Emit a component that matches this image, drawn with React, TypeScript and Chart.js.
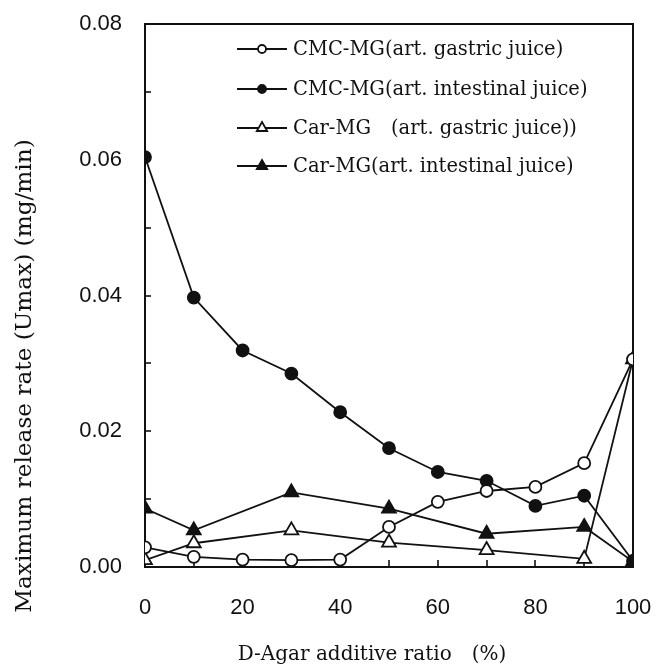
import React, { useEffect, useRef } from "react";
import { Chart, registerables } from "chart.js";

Chart.register(...registerables);

// ---- data ----
const ratio = [0, 10, 20, 30, 40, 50, 60, 70, 80, 90, 100];
const cmcGastric = [0.0029, 0.0015, 0.0011, 0.001, 0.0011, 0.0059, 0.0096, 0.0112, 0.0118, 0.0153, 0.0306];
const cmcIntestinal = [0.0604, 0.0397, 0.0319, 0.0285, 0.0228, 0.0175, 0.014, 0.0127, 0.009, 0.0105, 0.0009];
const carRatio = [0, 10, 30, 50, 70, 90, 100];
const carGastric = [0.001, 0.0035, 0.0054, 0.0036, 0.0025, 0.0012, 0.0306];
const carIntestinal = [0.0086, 0.0054, 0.011, 0.0086, 0.0049, 0.0059, 0.0008];

const seriesNames = [
  "CMC-MG(art. gastric juice)",
  "CMC-MG(art. intestinal juice)",
  "Car-MG\u3000(art. gastric juice))",
  "Car-MG(art. intestinal juice)",
];
const xTitle = "D-Agar additive ratio\u3000(%)";
const yTitle = "Maximum release rate (Umax) (mg/min)";
const yMinorStep = 0.01;
const xMinorStep = 10;

const SERIF = "'DejaVu Serif', 'Liberation Serif', serif";
const SANS = "'Liberation Sans', Arial, sans-serif";

function drawMarker(ctx: CanvasRenderingContext2D, style: string, filled: boolean, x: number, y: number, r: number) {
  ctx.beginPath();
  if (style === "circle") {
    ctx.arc(x, y, r, 0, Math.PI * 2);
  } else {
    const a = Math.PI * 2 / 3;
    ctx.moveTo(x, y - r);
    ctx.lineTo(x + Math.sin(a) * r, y - Math.cos(a) * r);
    ctx.lineTo(x + Math.sin(2 * a) * r, y - Math.cos(2 * a) * r);
    ctx.closePath();
  }
  ctx.fillStyle = filled ? "#111" : "#fff";
  ctx.fill();
  ctx.lineWidth = 1.8;
  ctx.strokeStyle = "#111";
  ctx.stroke();
}

const framePlugin = {
  id: "frameTicks",
  beforeDatasetsDraw(chart: any) {
    const { ctx, chartArea: a, scales } = chart;
    ctx.save();
    ctx.strokeStyle = "#111";
    ctx.lineWidth = 2;
    ctx.strokeRect(a.left, a.top, a.right - a.left, a.bottom - a.top);
    ctx.lineWidth = 1.6;
    const ys = scales.y;
    for (let v = ys.min; v <= ys.max + 1e-9; v += yMinorStep) {
      const py = Math.round(ys.getPixelForValue(v));
      ctx.beginPath();
      ctx.moveTo(a.left, py);
      ctx.lineTo(a.left + 6, py);
      ctx.stroke();
    }
    const xs = scales.x;
    for (let v = xs.min; v <= xs.max + 1e-9; v += xMinorStep) {
      const px = Math.round(xs.getPixelForValue(v));
      ctx.beginPath();
      ctx.moveTo(px, a.bottom);
      ctx.lineTo(px, a.bottom - 7);
      ctx.stroke();
    }
    ctx.restore();
  },
  afterDraw(chart: any) {
    const { ctx } = chart;
    ctx.save();
    ctx.fillStyle = "#111";
    ctx.textAlign = "center";
    ctx.textBaseline = "middle";
    ctx.font = `20px ${SERIF}`;
    ctx.fillText(xTitle, 372, 655);
    ctx.save();
    ctx.translate(25, 376);
    ctx.rotate(-Math.PI / 2);
    ctx.font = `23.2px ${SERIF}`;
    ctx.fillText(yTitle, 0, 0);
    ctx.restore();
    // legend
    const rows = [49, 89, 128, 166];
    chart.data.datasets.forEach((ds: any, i: number) => {
      const y = rows[i];
      ctx.strokeStyle = "#111";
      ctx.lineWidth = 2;
      ctx.beginPath();
      ctx.moveTo(237, y);
      ctx.lineTo(287, y);
      ctx.stroke();
      const isTri = ds.pointStyle === "triangle";
      drawMarker(ctx, ds.pointStyle, ds.pointBackgroundColor !== "#ffffff", 262, y, isTri ? 6 : 4);
      ctx.fillStyle = "#111";
      ctx.font = `19.5px ${SERIF}`;
      ctx.textAlign = "left";
      ctx.textBaseline = "middle";
      ctx.fillText(seriesNames[i], 293, y + 1);
    });
    ctx.restore();
  },
};

function mk(label: string, xs: number[], ys: number[], style: string, filled: boolean) {
  return {
    label,
    data: xs.map((x, i) => ({ x, y: ys[i] })),
    borderColor: "#111",
    borderWidth: 1.8,
    pointStyle: style,
    pointRadius: style === "triangle" ? 8 : 6,
    pointBorderWidth: 1.8,
    pointBorderColor: "#111",
    pointBackgroundColor: filled ? "#111111" : "#ffffff",
    tension: 0,
    fill: false,
  };
}

function zeroPad(s: any) {
  s.paddingTop = 0;
  s.paddingBottom = 0;
  s.paddingLeft = 0;
  s.paddingRight = 0;
}

export default function App() {
  const ref = useRef<HTMLCanvasElement | null>(null);
  useEffect(() => {
    if (!ref.current) return;
    const chart = new Chart(ref.current, {
      type: "line",
      data: {
        datasets: [
          mk(seriesNames[0], ratio, cmcGastric, "circle", false),
          mk(seriesNames[1], ratio, cmcIntestinal, "circle", true),
          mk(seriesNames[2], carRatio, carGastric, "triangle", false),
          mk(seriesNames[3], carRatio, carIntestinal, "triangle", true),
        ] as any,
      },
      options: {
        animation: false,
        responsive: false,
        maintainAspectRatio: false,
        layout: { padding: { top: 24, right: 23, left: 0, bottom: 0 } },
        plugins: { legend: { display: false }, tooltip: { enabled: false } },
        scales: {
          x: {
            type: "linear",
            min: 0,
            max: 100,
            grid: { display: false, drawTicks: false },
            border: { display: false },
            ticks: { stepSize: 20, padding: 28, color: "#111", font: { family: SANS, size: 22 }, maxRotation: 0 },
            afterFit: (s: any) => { s.height = 101; zeroPad(s); },
          },
          y: {
            type: "linear",
            min: 0,
            max: 0.08,
            grid: { display: false, drawTicks: false },
            border: { display: false },
            ticks: {
              stepSize: 0.02,
              padding: 23,
              color: "#111",
              font: { family: SANS, size: 22 },
              callback: (v: any) => Number(v).toFixed(2),
            },
            afterFit: (s: any) => { s.width = 145; zeroPad(s); },
          },
        },
      },
      plugins: [framePlugin],
    });
    return () => chart.destroy();
  }, []);
  return (
    <div style={{ position: "fixed", left: 0, top: 0, width: 656, height: 668, background: "#fff" }}>
      <canvas ref={ref} width={656} height={668} style={{ display: "block" }} />
    </div>
  );
}
